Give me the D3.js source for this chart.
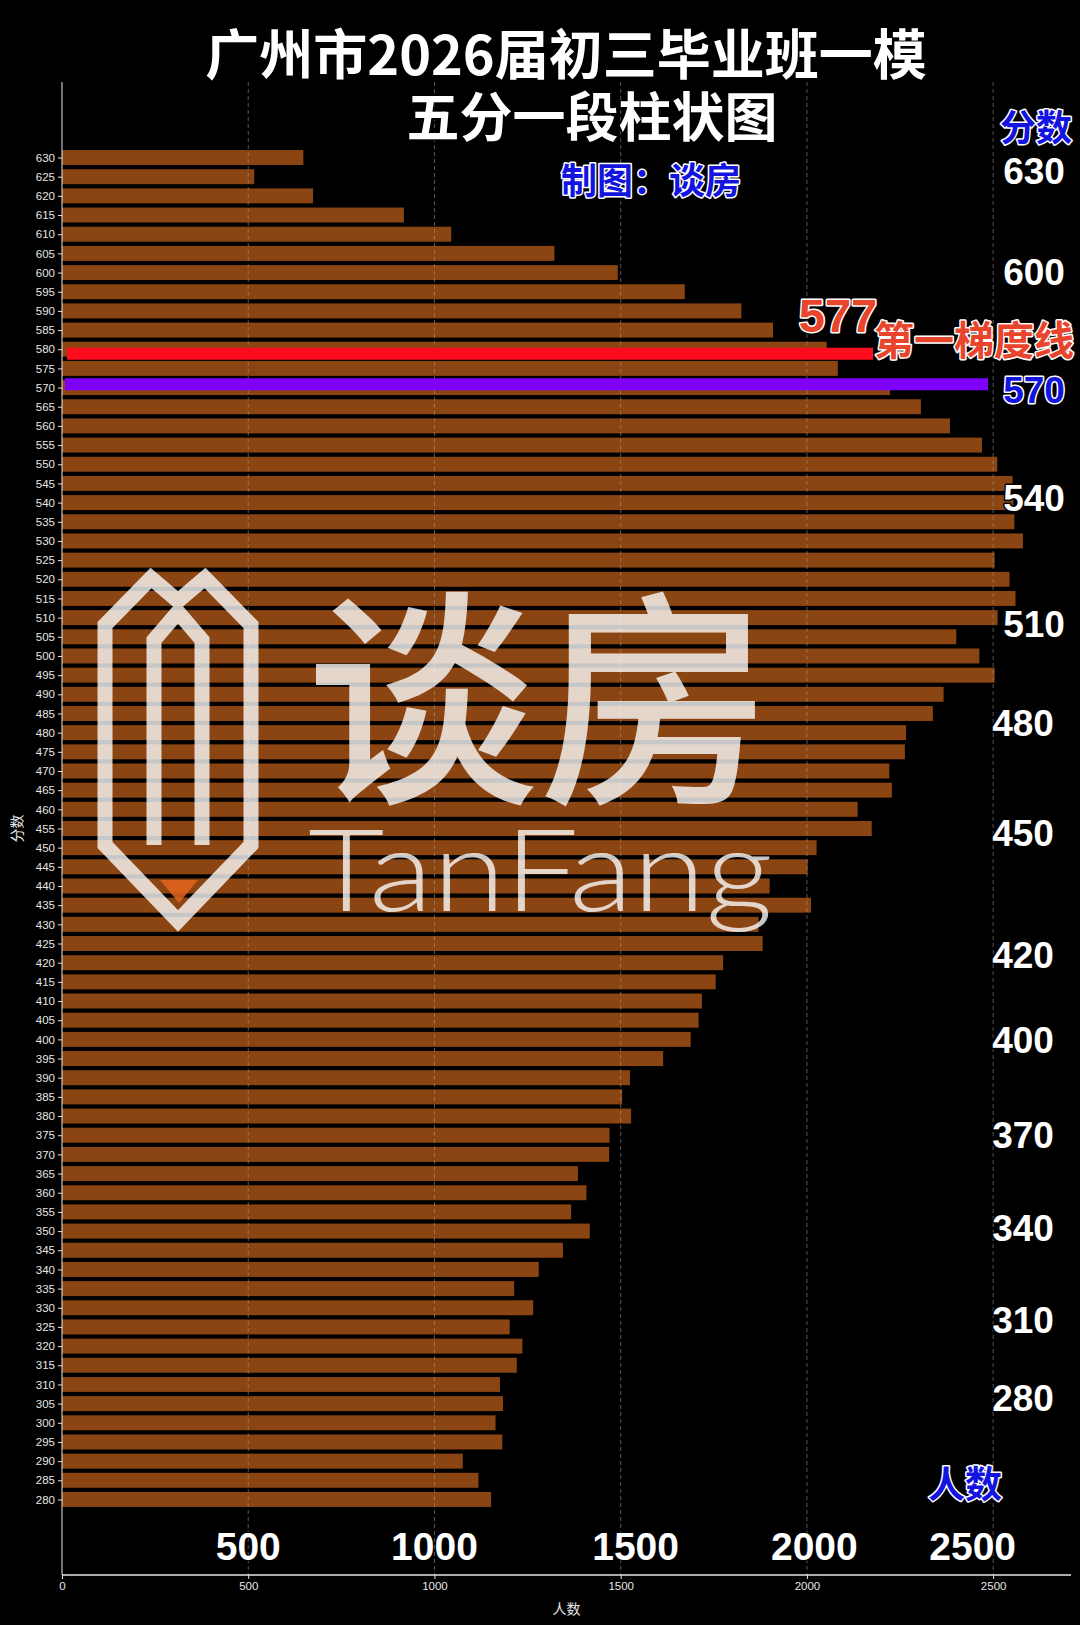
<!DOCTYPE html>
<html><head><meta charset="utf-8">
<script src="https://cdn.jsdelivr.net/npm/d3@7"></script>
<style>html,body{margin:0;padding:0;background:#000;} svg{display:block;}</style>
</head><body><svg id="c" width="1080" height="1625"></svg>
<script>
// ---------- data ----------
const scores = [630,625,620,615,610,605,600,595,590,585,580,575,570,565,560,555,550,545,540,535,530,525,520,515,510,505,500,495,490,485,480,475,470,465,460,455,450,445,440,435,430,425,420,415,410,405,400,395,390,385,380,375,370,365,360,355,350,345,340,335,330,325,320,315,310,305,300,295,290,285,280];
const counts = [648,516,674,918,1045,1322,1492,1672,1824,1909,2053,2083,2223,2306,2384,2470,2511,2552,2554,2557,2580,2504,2544,2560,2512,2401,2463,2504,2367,2338,2266,2263,2221,2228,2136,2174,2026,2002,1900,2011,1870,1881,1775,1755,1718,1709,1688,1614,1525,1504,1528,1470,1469,1385,1408,1367,1417,1345,1280,1214,1265,1202,1236,1221,1176,1184,1164,1182,1076,1118,1152];
const xTicks = [0,500,1000,1500,2000,2500];
const bigXLabels = ["500","1000","1500","2000","2500"];
const sideLabels = ["630","600","540","510","480","450","420","400","370","340","310","280"];
const titleLines = ["广州市2026届初三毕业班一模","五分一段柱状图"];
const credit = "制图：谈房";
const thresholdScore = "577";
const thresholdText = "第一梯度线";
const cutScore = "570";

// ---------- layout ----------
const W = 1080, H = 1625;
const plot = {left: 62, right: 1071, top: 82, bottom: 1575};
const bigXAt = [500, 1000, 1540, 2020, 2445];           // x positions in data units
const sideLabelY = [171, 272, 498, 624, 723, 833, 955, 1040, 1135, 1228, 1320, 1398];
const sideLabelX = [1034, 1034, 1034, 1034, 1023, 1023, 1023, 1023, 1023, 1023, 1023, 1023];
const lineScores = [578.8, 570.9]; // drawn positions of red / purple lines
const BLUE = "#1414e0", REDTXT = "#e8452c", BAR = "#8B4513";

const svg = d3.select("#c");
svg.append("rect").attr("width", W).attr("height", H).attr("fill", "#000");

const xMax = d3.max(counts) * 1.05;
const x = d3.scaleLinear().domain([0, xMax]).range([plot.left, plot.right]);
const pad = 0.4 + 0.05 * (70 + 0.8);
const y = d3.scaleLinear().domain([280 - pad * 5, 630 + pad * 5]).range([plot.bottom, plot.top]);
const bh = y(0) - y(3.9);

// bars
svg.append("g").selectAll("rect").data(scores).join("rect")
  .attr("x", x(0))
  .attr("y", (d) => y(d) - bh / 2)
  .attr("width", (d, i) => x(counts[i]) - x(0))
  .attr("height", bh)
  .attr("fill", BAR);

// grid lines (over bars)
svg.append("g").selectAll("line").data(xTicks.slice(1)).join("line")
  .attr("x1", d => x(d)).attr("x2", d => x(d))
  .attr("y1", plot.top).attr("y2", plot.bottom)
  .attr("stroke", "#9a9a9a").attr("stroke-opacity", 0.55)
  .attr("stroke-width", 1).attr("stroke-dasharray", "4,3");

// axes
const yAxis = d3.axisLeft(y).tickValues(scores).tickSize(4).tickPadding(3).tickFormat(d3.format("d"));
const gy = svg.append("g").attr("transform", `translate(${plot.left},0)`).call(yAxis);
gy.select(".domain").attr("stroke", "#e6e6e6").attr("d", `M0,${plot.top}V${plot.bottom}`);
gy.selectAll(".tick line").attr("stroke", "#e6e6e6");
gy.selectAll(".tick text").attr("fill", "#e6e6e6").style("font", "11.5px 'Liberation Sans', Arial, sans-serif");

const xAxis = d3.axisBottom(x).tickValues(xTicks).tickSize(4).tickPadding(3).tickFormat(d3.format("d"));
const gx = svg.append("g").attr("transform", `translate(0,${plot.bottom})`).call(xAxis);
gx.select(".domain").attr("stroke", "#e6e6e6").attr("stroke-width", 1.5).attr("d", `M${plot.left},0H${plot.right}`);
gx.selectAll(".tick line").attr("stroke", "#e6e6e6");
gx.selectAll(".tick text").attr("fill", "#e6e6e6").style("font", "11.5px 'Liberation Sans', Arial, sans-serif");

svg.append("text").attr("x", (plot.left + plot.right) / 2).attr("y", 1614)
  .attr("text-anchor", "middle").attr("fill", "#e6e6e6")
  .style("font", "14px 'Noto Sans CJK SC', sans-serif").text("人数");
svg.append("text").attr("transform", `translate(22,${(plot.top + plot.bottom) / 2}) rotate(-90)`)
  .attr("text-anchor", "middle").attr("fill", "#e6e6e6")
  .style("font", "14px 'Noto Sans CJK SC', sans-serif").text("分数");

// watermark
const wm = svg.append("g").attr("opacity", 0.78);
wm.append("path")
  .attr("d", "M105,845 L105,625 L151,578 L178,601 L205,578 L251,625 L251,845 L178,921 Z")
  .attr("fill", "none").attr("stroke", "#fff").attr("stroke-width", 15).attr("stroke-linejoin", "miter");
wm.append("path")
  .attr("d", "M154,845 L154,640 L178,612 L202,640 L202,845")
  .attr("fill", "none").attr("stroke", "#fff").attr("stroke-width", 15).attr("stroke-linejoin", "miter");
wm.append("text").attr("x", 306).attr("y", 786).attr("fill", "#fff")
  .attr("textLength", 466).attr("lengthAdjust", "spacingAndGlyphs")
  .style("font", "500 230px 'Noto Sans CJK SC', sans-serif").text("谈房");
wm.append("text").attr("x", 308).attr("y", 911).attr("fill", "#fff")
  .attr("textLength", 465).attr("lengthAdjust", "spacingAndGlyphs")
  .style("font", "300 115px Lato, 'Open Sans', sans-serif").text("TanFang");
svg.append("path").attr("d", "M160,880 L198,880 L179,903 Z").attr("fill", "#e4641e").attr("opacity", 0.85);

// threshold lines
svg.append("line").attr("x1", 67).attr("x2", 873).attr("y1", y(lineScores[0])).attr("y2", y(lineScores[0]))
  .attr("stroke", "#ff0d1e").attr("stroke-width", 12);
svg.append("line").attr("x1", 65).attr("x2", 988).attr("y1", y(lineScores[1])).attr("y2", y(lineScores[1]))
  .attr("stroke", "#8000ff").attr("stroke-width", 12);

// helper for outlined text
function otext(t, cx, cy, size, fill, stroke, sw, weight, family, anchor) {
  return svg.append("text").attr("x", cx).attr("y", cy)
    .attr("text-anchor", anchor || "middle")
    .attr("fill", fill).attr("stroke", stroke).attr("stroke-width", sw)
    .attr("stroke-linejoin", "round").attr("paint-order", "stroke")
    .style("font-family", family).style("font-size", size + "px").style("font-weight", weight)
    .text(t);
}
const CJK = "'Noto Sans CJK SC', sans-serif";
const LAT = "'Liberation Sans', Arial, sans-serif";

// titles
otext(titleLines[0], 566, 56 + 54 * 0.35, 54, "#fff", "#000", 3, 700, CJK);
otext(titleLines[1], 592, 118 + 53 * 0.35, 53, "#fff", "#000", 3, 700, CJK);
otext(credit, 651, 181 + 36 * 0.35, 36, BLUE, "#fff", 3, 700, CJK);
otext("分数", 1036, 128 + 36 * 0.35, 36, BLUE, "#fff", 3, 700, CJK);
otext("人数", 965, 1485 + 37 * 0.35, 37, BLUE, "#fff", 3, 700, CJK);

// side labels
sideLabels.forEach((t, i) => otext(t, sideLabelX[i], sideLabelY[i] + 37 * 0.358, 37, "#fff", "#000", 3, 700, LAT));
otext(cutScore, 1034, 390 + 37 * 0.358, 37, BLUE, "#fff", 3, 700, LAT);

// threshold annotations
otext(thresholdScore, 838, 315 + 47 * 0.358, 47, REDTXT, "#fff", 3, 700, LAT);
otext(thresholdText, 874, 341 + 40 * 0.35, 40, REDTXT, "#fff", 3, 700, CJK, "start");

// big x labels
bigXLabels.forEach((t, i) => otext(t, x(bigXAt[i]), 1546 + 39 * 0.358, 39, "#fff", "#000", 2, 700, LAT));
</script>
</body></html>
